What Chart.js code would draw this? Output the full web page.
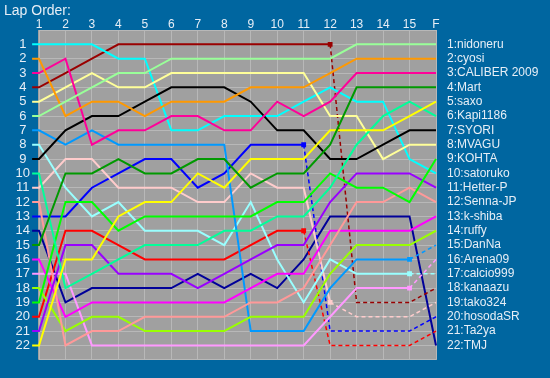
<!DOCTYPE html>
<html lang="en">
  <head>
    <meta charset="UTF-8" />
    <title>Lap Order</title>
    <script src="https://cdn.jsdelivr.net/npm/chart.js"></script>
    <style>
      html, body {
        margin: 0;
        padding: 0;
        background-color: #0066a0;
      }
      #chart-container {
        position: relative;
        width: 550px;
        height: 378px;
      }
    </style>
  </head>
  <body>
    <div id="chart-container">
      <canvas id="lapChart" width="550" height="378"></canvas>
    </div>

    <script>
      // Lap labels (the last column is the finish)
      const lapLabels = ["1", "2", "3", "4", "5", "6", "7", "8", "9", "10", "11", "12", "13", "14", "15", "F"];

      // Drivers in finishing order
      const drivers = [
        "nidoneru", "cyosi", "CALIBER 2009", "Mart", "saxo", "Kapi1186", "SYORI", "MVAGU",
        "KOHTA", "satoruko", "Hetter-P", "Senna-JP", "k-shiba", "ruffy", "DanNa", "Arena09",
        "calcio999", "kanaazu", "tako324", "hosodaSR", "Ta2ya", "TMJ",
      ];

      // Position of each driver at laps 1..15 and F
      const nidoneru = [6, 5, 4, 3, 3, 2, 2, 2, 2, 2, 2, 2, 1, 1, 1, 1];
      const cyosi = [2, 6, 5, 5, 6, 5, 5, 5, 4, 4, 4, 3, 2, 2, 2, 2];
      const caliber = [3, 2, 8, 7, 7, 6, 6, 7, 7, 5, 6, 5, 3, 3, 3, 3];
      const mart = [15, 10, 10, 9, 10, 10, 9, 9, 11, 10, 10, 8, 4, 4, 4, 4];
      const saxo = [22, 16, 16, 13, 12, 12, 10, 11, 9, 9, 9, 7, 7, 7, 6, 5];
      const kapi = [10, 18, 17, 16, 15, 15, 15, 14, 14, 13, 13, 11, 8, 6, 5, 6];
      const syori = [9, 7, 6, 6, 5, 4, 4, 4, 5, 7, 7, 9, 9, 8, 7, 7];
      const mvagu = [5, 4, 3, 4, 4, 3, 3, 3, 3, 3, 3, 6, 6, 9, 8, 8];
      const kohta = [19, 12, 12, 14, 13, 13, 13, 13, 13, 12, 12, 10, 11, 11, 12, 9];
      const satoruko = [1, 1, 1, 2, 2, 7, 7, 6, 6, 6, 5, 4, 5, 5, 9, 10];
      const hetter = [21, 15, 15, 17, 17, 17, 18, 17, 16, 15, 15, 12, 10, 10, 10, 11];
      const senna = [12, 22, 21, 21, 20, 20, 20, 20, 19, 19, 18, 15, 12, 12, 11, 12];
      const kshiba = [16, 20, 19, 19, 19, 19, 19, 19, 18, 17, 17, 14, 14, 14, 14, 13];
      const ruffy = [18, 21, 20, 20, 21, 21, 21, 21, 20, 20, 20, 17, 15, 15, 15, 14];
      const danna = [7, 8, 7, 8, 8, 8, 8, 8, 21, 21, 21, 18, 16, 16, 16, 15];
      const arena = [17, 17, 22, 22, 22, 22, 22, 22, 22, 22, 22, 20, 18, 18, 18, 16];
      const calcio = [8, 11, 13, 12, 14, 14, 14, 15, 12, 16, 19, 16, 17, 17, 17, 17];
      const kanaazu = [4, 3, 2, 1, 1, 1, 1, 1, 1, 1, 1, 1, 19, 19, 19, 18];
      const tako = [11, 9, 9, 11, 11, 11, 12, 12, 10, 11, 11, 19, 20, 20, 20, 19];
      const hosoda = [13, 13, 11, 10, 9, 9, 11, 10, 8, 8, 8, 21, 21, 21, 21, 20];
      const ta2ya = [20, 14, 14, 15, 16, 16, 16, 16, 15, 14, 14, 22, 22, 22, 22, 21];
      const tmj = [14, 19, 18, 18, 18, 18, 17, 18, 17, 18, 16, 13, 13, 13, 13, 22];

      // Last lap driven normally (line is dashed after it), null = finished
      const stoppedAt = [
        null, null, null, null, null, null, null, null, null, null, null,
        null, null, null, 15, 15, 15, 12, 12, 11, 11, null,
      ];

      const series = [
        nidoneru, cyosi, caliber, mart, saxo, kapi, syori, mvagu, kohta, satoruko, hetter,
        senna, kshiba, ruffy, danna, arena, calcio, kanaazu, tako, hosoda, ta2ya, tmj,
      ];

      const colors = [
        "#99ff99", "#ff9900", "#ff0099", "#009900", "#ffff00", "#00ff99", "#000000", "#ffff99",
        "#00ff00", "#00ffff", "#9900ff", "#ff9999", "#ff00ff", "#99ff00", "#0099ff", "#ff99ff",
        "#99ffff", "#990000", "#ffcccc", "#0000ff", "#ff0000", "#000099",
      ];

      const TEXT = "#e6eef6";
      const STUB_START = 0.74; // short lead-in left of lap 1
      const STUB_END = 16.34; // line runs on to the name label

      const datasets = series.map((pos, i) => {
        const pts = [{x: STUB_START, y: pos[0]}];
        pos.forEach((p, k) => pts.push({x: k + 1, y: p}));
        pts.push({x: STUB_END, y: pos[pos.length - 1]});
        const stop = stoppedAt[i];
        return {
          label: drivers[i],
          data: pts,
          borderColor: colors[i],
          backgroundColor: colors[i],
          borderWidth: 2,
          tension: 0,
          clip: false,
          pointStyle: "rect",
          pointRadius: pts.map((_, k) => (stop !== null && k === stop ? 2 : 0)),
          pointHoverRadius: 0,
          segment: {
            borderDash: ctx => (stop !== null && ctx.p0DataIndex >= stop ? [4, 3] : undefined),
            borderWidth: ctx => (stop !== null && ctx.p0DataIndex >= stop ? 1.5 : undefined),
          },
        };
      });

      const plotBackground = {
        id: "plotBackground",
        beforeDraw(chart) {
          const {ctx, chartArea} = chart;
          ctx.save();
          ctx.fillStyle = "#a0a0a0";
          ctx.fillRect(chartArea.left - 1, chartArea.top, chartArea.width + 2, chartArea.height);
          ctx.restore();
        },
        afterDraw(chart) {
          const {ctx} = chart;
          ctx.save();
          ctx.fillStyle = TEXT;
          ctx.font = "14px 'Liberation Sans', Arial, sans-serif";
          ctx.textBaseline = "alphabetic";
          ctx.fillText("Lap Order:", 4, 15);
          ctx.restore();
        },
      };

      Chart.defaults.font.family = "'Liberation Sans', Arial, sans-serif";

      new Chart(document.getElementById("lapChart"), {
        type: "line",
        data: {datasets},
        plugins: [plotBackground],
        options: {
          responsive: false,
          animation: false,
          events: [],
          layout: {padding: {top: 0, bottom: 14, left: 0, right: 0}},
          plugins: {
            legend: {display: false},
            tooltip: {enabled: false},
          },
          scales: {
            x: {
              type: "linear",
              position: "top",
              min: 1,
              max: 16,
              afterFit: scale => {
                scale.height = 30;
              },
              ticks: {
                stepSize: 1,
                autoSkip: false,
                maxRotation: 0,
                padding: -2,
                color: TEXT,
                font: {size: 12},
                callback: v => lapLabels[v - 1],
              },
              grid: {color: "#b8b8b8", lineWidth: 1, drawTicks: false},
              border: {display: false},
            },
            y: {
              type: "linear",
              position: "left",
              min: 0,
              max: 23,
              reverse: true,
              afterFit: scale => {
                scale.width = 39;
              },
              ticks: {
                stepSize: 1,
                autoSkip: false,
                padding: 9,
                crossAlign: "center",
                color: TEXT,
                font: {size: 13},
                callback: v => (v >= 1 && v <= 22 ? String(v) : ""),
              },
              grid: {color: "#b8b8b8", lineWidth: 1, drawTicks: false},
              border: {display: false},
            },
            names: {
              type: "linear",
              position: "right",
              min: 0,
              max: 23,
              reverse: true,
              afterFit: scale => {
                scale.width = 114;
              },
              ticks: {
                stepSize: 1,
                autoSkip: false,
                padding: 11,
                color: TEXT,
                font: {size: 12},
                callback: v => (v >= 1 && v <= 22 ? v + ":" + drivers[v - 1] : ""),
              },
              grid: {display: false, drawTicks: false},
              border: {display: false},
            },
          },
        },
      });
    </script>
  </body>
</html>
